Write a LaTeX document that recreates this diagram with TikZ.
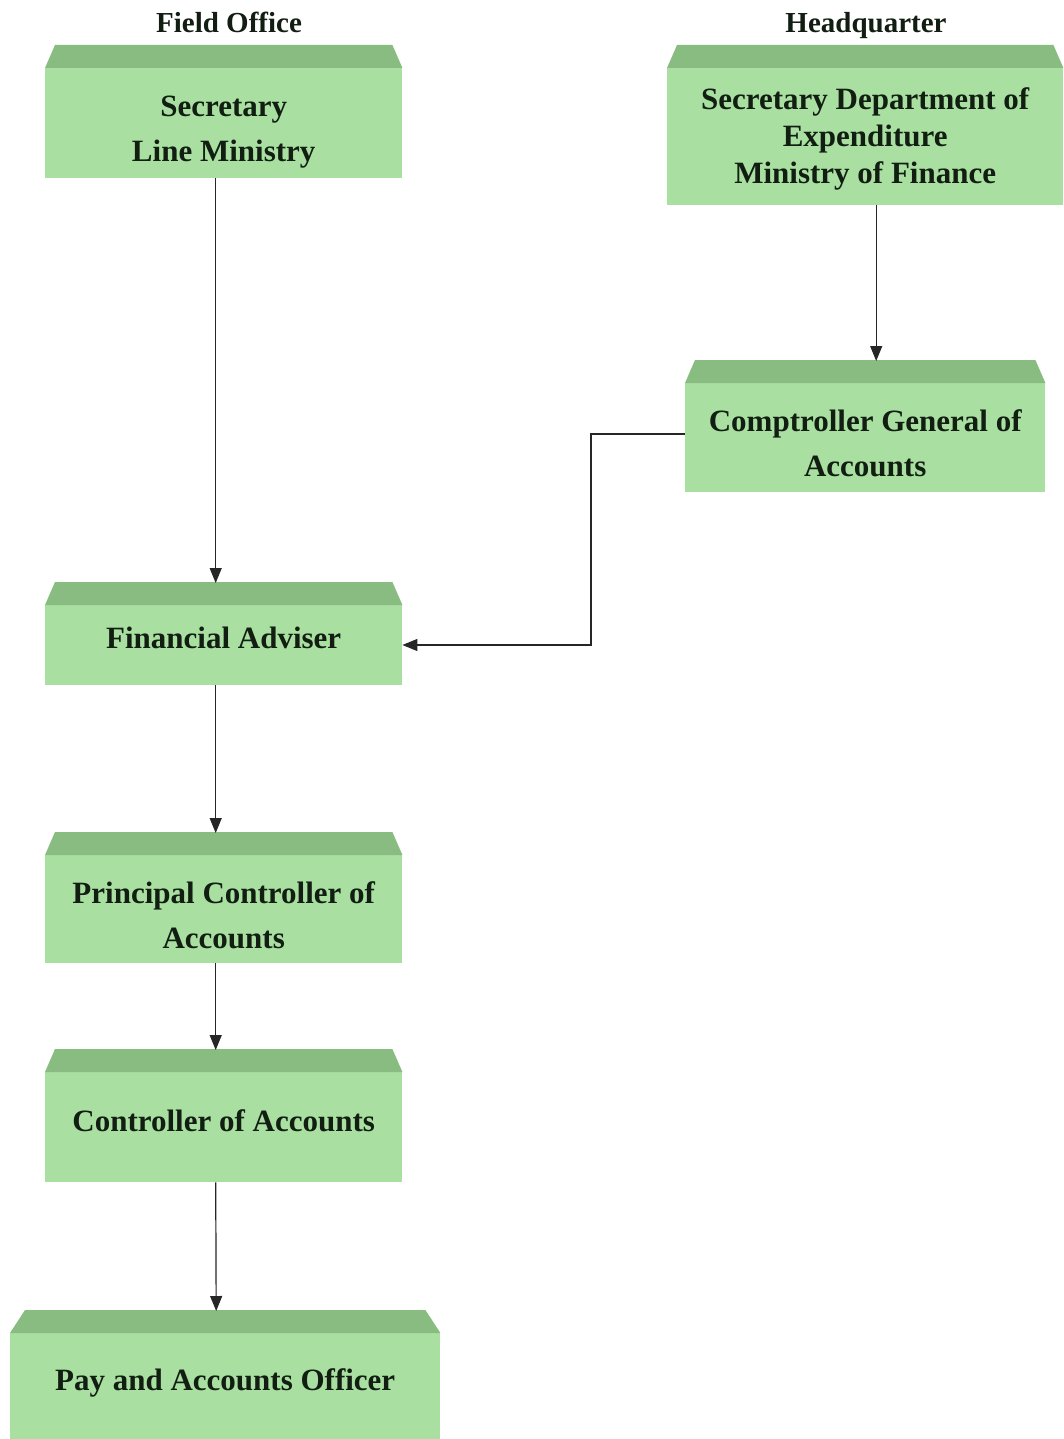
\documentclass[tikz,border=0pt]{standalone}
\usepackage{fontspec}
\setmainfont{Liberation Serif}
\usetikzlibrary{arrows.meta}
\definecolor{boxbody}{RGB}{169,224,161}
\definecolor{boxtop}{RGB}{136,188,128}
\definecolor{txt}{RGB}{18,30,18}
\tikzset{
  box/.style={fill=boxbody, inner sep=0pt, anchor=north west},
  lbl/.style={inner sep=0pt, align=center, text=txt, font=\bfseries\fontsize{31}{45}\selectfont},
  head/.style={anchor=base, text=txt, font=\bfseries\fontsize{29}{34}\selectfont},
  arr/.style={draw=black!85, line width=1.2pt, -{Triangle[length=15pt,width=12pt]}},
}
\newcommand{\bevel}[2]{%
  \fill[boxtop] (#1.north west) -- ([xshift=#2pt,yshift=23pt]#1.north west)
    -- ([xshift=-#2pt,yshift=23pt]#1.north east) -- (#1.north east) -- cycle;}
\begin{document}
\begin{tikzpicture}[x=1pt,y=-1pt]
\useasboundingbox[fill=white] (0,0) rectangle (1063,1439);
\node[head] (fo) at (229,33) {Field Office};
\node[head] (hq) at (866,33) {Headquarter};

\node[box, minimum width=357pt, minimum height=110pt] (sl) at (45,68) {};
\node[box, minimum width=396pt, minimum height=137pt] (sd) at (667,68) {};
\node[box, minimum width=360pt, minimum height=109pt] (cg) at (685,383) {};
\node[box, minimum width=357pt, minimum height=80pt] (fa) at (45,605) {};
\node[box, minimum width=357pt, minimum height=108pt] (pc) at (45,855) {};
\node[box, minimum width=357pt, minimum height=110pt] (ca) at (45,1072) {};
\node[box, minimum width=430pt, minimum height=106pt] (pa) at (10,1333) {};

\bevel{sl}{10}\bevel{sd}{10}\bevel{cg}{10}\bevel{fa}{10}\bevel{pc}{10}\bevel{ca}{10}\bevel{pa}{15}

\node[lbl] (slt) at ([yshift=-9pt]sl.center) {Secretary\\Line Ministry};
\node[lbl, font=\bfseries\fontsize{31}{37}\selectfont] (sdt) at ([yshift=-2pt]sd.center) {Secretary Department of\\Expenditure\\Ministry of Finance};
\node[lbl] (cgt) at ([yshift=-6pt]cg.center) {Comptroller General of\\Accounts};
\node[lbl] (fat) at ([yshift=7pt]fa.center) {Financial Adviser};
\node[lbl] (pct) at ([yshift=-6pt]pc.center) {Principal Controller of\\Accounts};
\node[lbl] (cat) at ([yshift=6pt]ca.center) {Controller of Accounts};
\node[lbl] (pat) at ([yshift=3pt]pa.center) {Pay and Accounts Officer};

\draw[arr] ([xshift=-8pt]sl.south) -- ([xshift=-8pt,yshift=22pt]fa.north);
\draw[arr] ([xshift=11pt]sd.south) -- ([xshift=11pt,yshift=22pt]cg.north);
\coordinate (bend) at (591,434);
\draw[arr] (cg.west |- bend) -- (bend) -- (591,645) -- (fa.east |- 0,645);
\draw[arr] ([xshift=-8pt]fa.south) -- ([xshift=-8pt,yshift=22pt]pc.north);
\draw[arr] ([xshift=-8pt]pc.south) -- ([xshift=-8pt,yshift=22pt]ca.north);
\draw[arr] ([xshift=-8pt]ca.south) -- ([xshift=-9pt,yshift=22pt]pa.north);
\end{tikzpicture}
\end{document}
